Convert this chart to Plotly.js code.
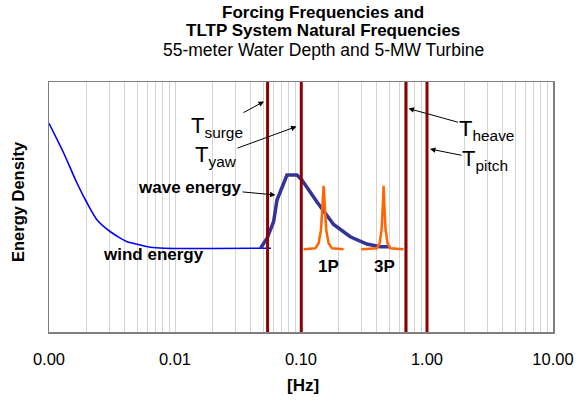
<!DOCTYPE html>
<html>
<head>
<meta charset="utf-8">
<script src="https://cdn.plot.ly/plotly-3.0.1.min.js"></script>
<style>html,body{margin:0;padding:0;background:#fff;}#chart{width:578px;height:408px;}</style>
</head>
<body>
<div id="chart"></div>
<script>
// ---- data ----
const tickValues = [0.001, 0.01, 0.1, 1, 10];
const tickLabels = ["0.00", "0.01", "0.10", "1.00", "10.00"];

const windFreq = [0.001, 0.00131, 0.00167, 0.00201, 0.00241, 0.00307, 0.00417, 0.00532, 0.00638, 0.0082, 0.0578];
const windEnergy = [83.5, 71.5, 59.5, 51.5, 44.8, 40.1, 36.1, 34.8, 33.9, 33.5, 33.5];

const waveFreq = [0.0477, 0.0538, 0.0606, 0.0645, 0.0685, 0.0774, 0.0929, 0.1018, 0.134, 0.1815, 0.246, 0.333, 0.426, 0.511];
const waveEnergy = [33.5, 37.5, 44.1, 52.8, 56.1, 62.8, 62.8, 60.8, 52.0, 43.0, 38.1, 35.2, 34.1, 34.1];

const p1Freq = [0.1049, 0.1299, 0.1380, 0.1440, 0.1484, 0.1512, 0.1540, 0.1587, 0.1656, 0.1760, 0.2178];
const p3Freq = [0.3008, 0.4003, 0.4204, 0.4359, 0.4467, 0.4522, 0.4578, 0.4690, 0.4864, 0.5107, 0.6514];
const peakEnergy = [33.1, 33.5, 35.5, 40.8, 51.5, 58.5, 51.5, 40.8, 35.5, 33.5, 33.1];

const naturalNames = ["surge", "yaw", "heave", "pitch"];
const naturalFreq = [0.0543, 0.1005, 0.68, 1.0];
const energyRange = [0, 100];

// ---- layout helpers ----
const W = 578, H = 408;
const M = {l: 49, r: 25, t: 82, b: 76};
const PW = W - M.l - M.r, PH = H - M.t - M.b;
const px = X => (X - M.l) / PW;
const py = Y => (H - M.b - Y) / PH;
const FONT = "Arial, 'Liberation Sans', sans-serif";

const minorVals = [];
for (let d = -3; d <= 0; d++) for (let k = 2; k <= 9; k++) minorVals.push(k * Math.pow(10, d));

const traces = [
  {x: windFreq, y: windEnergy, mode: "lines", line: {color: "#0000FF", width: 1.6, shape: "spline", smoothing: 0.6}, hoverinfo: "skip"},
  {x: waveFreq, y: waveEnergy, mode: "lines", line: {color: "#333399", width: 3.5}, hoverinfo: "skip"},
  {x: p1Freq, y: peakEnergy, mode: "lines", line: {color: "#FF6600", width: 2.5}, hoverinfo: "skip"},
  {x: p3Freq, y: peakEnergy, mode: "lines", line: {color: "#FF6600", width: 2.5}, hoverinfo: "skip"}
];
naturalFreq.forEach(f => traces.push({x: [f, f], y: energyRange, mode: "lines", line: {color: "#8B0000", width: 3}, hoverinfo: "skip"}));

const ann = [];
function txt(t, X, Y, size, bold, extra) {
  ann.push(Object.assign({xref: "paper", yref: "paper", x: px(X), y: py(Y), text: bold ? "<b>" + t + "</b>" : t,
    showarrow: false, xanchor: "center", yanchor: "middle",
    font: {family: FONT, size: size, color: "#000"}}, extra || {}));
}
// label with an arrow: text centred at (X,Y), arrow head at (hx,hy)
function callout(t, X, Y, hx, hy, size, bold) {
  ann.push({xref: "paper", yref: "paper", x: px(hx), y: py(hy), ax: X - hx, ay: Y - hy,
    text: bold ? "<b>" + t + "</b>" : t, font: {family: FONT, size: size, color: "#000"},
    showarrow: true, arrowhead: 2, arrowsize: 1.1, arrowwidth: 1, arrowcolor: "#000", standoff: 0, borderpad: 0});
}

// titles
txt("Forcing Frequencies and", 323, 12, 17, true);
txt("TLTP System Natural Frequencies", 323, 30, 17, true);
txt("55-meter Water Depth and 5-MW Turbine", 323, 50, 17.5, false);
// axis titles
txt("[Hz]", 303, 385, 17, true);
txt("Energy Density", 18, 202, 16.5, true, {textangle: -90});
// labels
callout("T<sub>surge</sub>", 217, 127, 264, 101.5, 22, false);
callout("T<sub>yaw</sub>", 216, 156, 296.5, 126.5, 22, false);
callout("wave energy", 190, 187, 275.5, 195, 17, true);
txt("wind energy", 153, 254, 17, true);
txt("1P", 328, 266, 17, true);
txt("3P", 384.5, 266, 17, true);
callout("T<sub>heave</sub>", 486, 130, 408.5, 108.5, 22, false);
callout("T<sub>pitch</sub>", 485, 160, 430, 149, 22, false);

const layout = {
  width: W, height: H, margin: M, showlegend: false,
  paper_bgcolor: "#fff", plot_bgcolor: "#fff",
  font: {family: FONT, size: 16, color: "#000"},
  xaxis: {type: "log", range: [-3, 1], tickmode: "array", tickvals: tickValues, ticktext: tickLabels,
    showgrid: true, gridcolor: "#d4d4d4", gridwidth: 1, ticks: "", ticklabelstandoff: 12,
    minor: {tickmode: "array", tickvals: minorVals, showgrid: true, gridcolor: "#d4d4d4", gridwidth: 1, ticks: ""},
    showline: true, linecolor: "#7f7f7f", linewidth: 1.5, mirror: true, zeroline: false,
    tickfont: {family: FONT, size: 16.5, color: "#000"}},
  yaxis: {range: energyRange, showticklabels: false, showgrid: false, zeroline: false, ticks: "",
    showline: true, linecolor: "#7f7f7f", linewidth: 1.5, mirror: true},
  annotations: ann
};
Plotly.newPlot("chart", traces, layout, {staticPlot: true, displayModeBar: false});
</script>
</body>
</html>
